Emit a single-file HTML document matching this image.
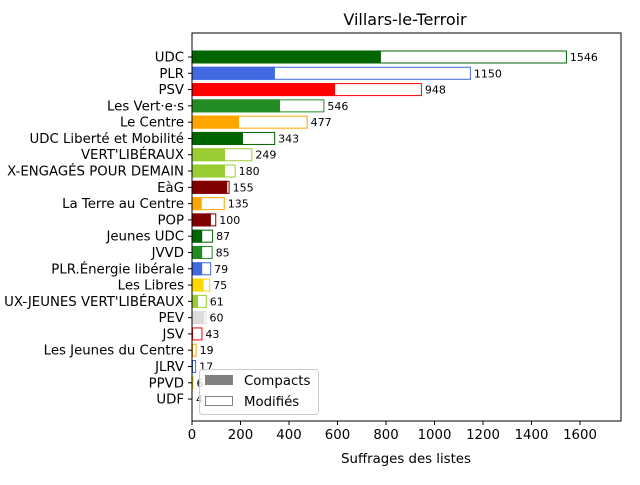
<!DOCTYPE html>
<html><head><meta charset="utf-8"><style>
body{margin:0;background:#fff}
svg{font-family:"DejaVu Sans","Liberation Sans",sans-serif}
</style></head><body>
<svg id="c" width="640" height="480"></svg>
<script>
const categories=["UDC","PLR","PSV","Les Vert·e·s","Le Centre","UDC Liberté et Mobilité","VERT'LIBÉRAUX","X-ENGAGÉS POUR DEMAIN","EàG","La Terre au Centre","POP","Jeunes UDC","JVVD","PLR.Énergie libérale","Les Libres","UX-JEUNES VERT'LIBÉRAUX","PEV","JSV","Les Jeunes du Centre","JLRV","PPVD","UDF"];
const totals=[1546,1150,948,546,477,343,249,180,155,135,100,87,85,79,75,61,60,43,19,17,6,4];
const compacts=[779,342,590,363,194,210,136,136,145,40,78,42,42,42,48,25,50,0,0,0,3,2];
const colors=["#006400","#4169e1","#ff0000","#228b22","#ffa500","#006400","#9acd32","#9acd32","#800000","#ffa500","#800000","#006400","#228b22","#4169e1","#ffd700","#9acd32","#dcdcdc","#ff0000","#ffa500","#4169e1","#ffd700","#006400"];
const xTicks=[0,200,400,600,800,1000,1200,1400,1600];
const NS="http://www.w3.org/2000/svg";
const svg=document.getElementById("c");
const L=192,R=621,T=33,B=421,XMAX=1769;
const x=v=>L+v*(R-L)/XMAX;
const y=i=>57+i*16.29;
function el(t,a,txt){const e=document.createElementNS(NS,t);for(const k in a)e.setAttribute(k,a[k]);if(txt!=null)e.textContent=txt;svg.appendChild(e);return e;}
let t=el("text",{x:405,y:25,"text-anchor":"middle","font-size":16},"Villars-le-Terroir");


const bh=13;
categories.forEach((c,i)=>{
 const cy=y(i);
 let r=el("rect",{x:x(0)+0.5,y:cy-bh/2+0.5,width:Math.max(0,x(totals[i])-x(0)-1),height:bh-1,fill:"#fff",stroke:colors[i],"stroke-width":1});
 
 
 let f=el("rect",{x:x(0),y:cy-bh/2,width:x(compacts[i])-x(0),height:bh,fill:colors[i]});
 
 
 let v=el("text",{x:x(totals[i])+3,y:cy+4,"font-size":11,fill:"#000"},String(totals[i]));
 
 
 el("line",{x1:L-4,x2:L,y1:cy,y2:cy,stroke:"#000"});
 let lb=el("text",{x:L-8,y:cy+4.5,"text-anchor":"end","font-size":13.3},c);
 
 
});
el("rect",{x:L,y:T,width:R-L,height:B-T,fill:"none",stroke:"#000","stroke-width":1});
xTicks.forEach(v=>{
 el("line",{x1:x(v),x2:x(v),y1:B,y2:B+4,stroke:"#000"});
 let tl=el("text",{x:x(v),y:B+18,"text-anchor":"middle","font-size":13.3},String(v));
 
 
});
let xl=el("text",{x:406,y:463,"text-anchor":"middle","font-size":13.3},"Suffrages des listes");


let lg=el("rect",{x:199.5,y:369.5,width:119,height:45,rx:3,fill:"#fff","fill-opacity":0.8,stroke:"#ccc"});


el("rect",{x:205,y:375,width:28,height:10,fill:"#808080"});
el("text",{x:244,y:385,"font-size":13.3},"Compacts");
el("rect",{x:205.5,y:396.5,width:27,height:9,fill:"#fff",stroke:"#808080"});
el("text",{x:244,y:406,"font-size":13.3},"Modifiés");
</script>
</body></html>
